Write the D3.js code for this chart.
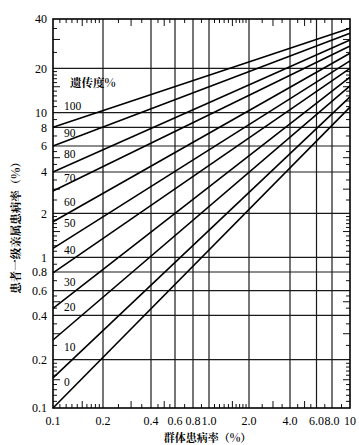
<!DOCTYPE html>
<html><head><meta charset="utf-8">
<script src="https://cdn.jsdelivr.net/npm/d3@7"></script>
<style>
html,body{margin:0;padding:0;background:#fff;}
svg{display:block;}
</style></head>
<body>
<svg id="chart" width="359" height="445"></svg>
<script>
// ---- data ----
const xGridVals = [0.1, 0.2, 0.4, 0.6, 0.8, 1, 2, 4, 6, 8, 10];
const xTickLabels = ["0.1", "0.2", "0.4", "0.6", "0.8", "1.0", "2.0", "4.0", "6.0", "8.0", "10"];
const yGridVals = [0.1, 0.2, 0.4, 0.6, 0.8, 1, 2, 4, 6, 8, 10, 20, 40];
const yTickLabels = ["0.1", "0.2", "0.4", "0.6", "0.8", "1", "2", "4", "6", "8", "10", "20", "40"];
const heritability = [0, 10, 20, 30, 40, 50, 60, 70, 80, 90, 100];
const xStart = 0.1, xEnd = 10;
const startValues = [0.1, 0.154, 0.272, 0.449, 0.79, 1.15, 1.75, 2.91, 4, 6, 8];       // relative risk at 0.1%
const endValues   = [10.9, 12.8, 15.2, 17.4, 20, 22.2, 24.7, 27.4, 29.8, 32.7, 35.1];   // at 10%
const labelValues = [0.145, 0.244, 0.459, 0.686, 1.12, 1.72, 2.42, 3.62, 5.3, 7.33, 11.1];
const minorMults = [1.1, 1.2, 1.3, 1.4, 1.5, 1.6, 1.7, 1.8, 1.9, 2.5, 3, 3.5, 4.5, 5, 5.5, 7, 9];
const longMults = [1.5, 3, 5];
const decades = [0.1, 1, 10];
const legendTitle = "遗传度%";
const xTitle = "群体患病率（%）";
const yTitle = "患者一级亲属患病率（%）";

// ---- layout (scale calibration of the printed log paper) ----
const xPix = [53, 103, 151, 175, 193, 209, 249, 290, 316.5, 332, 350];
const yPix = [408, 359.7, 315.3, 290.7, 272, 257.3, 213.3, 172, 146, 127.3, 112.7, 68.3, 19];

const x = d3.scaleLog().domain(xGridVals).range(xPix);
const y = d3.scaleLog().domain(yGridVals).range(yPix);
const L = x(0.1), R = x(10), T = y(40), B = y(0.1);

const svg = d3.select("#chart");
const serif = "'Liberation Serif','Times New Roman',serif";
const cjk = "'Noto Serif CJK SC','Noto Sans CJK SC',sans-serif";

// gridlines
svg.append("g").selectAll("line").data(xGridVals.slice(1, -1)).join("line")
  .attr("x1", d => x(d)).attr("x2", d => x(d)).attr("y1", T).attr("y2", B)
  .attr("stroke", "#1a1a1a").attr("stroke-width", 1.2);
svg.append("g").selectAll("line").data(yGridVals.slice(1, -1)).join("line")
  .attr("y1", d => y(d)).attr("y2", d => y(d)).attr("x1", L).attr("x2", R)
  .attr("stroke", "#1a1a1a").attr("stroke-width", 1.2);

// minor ticks
const isLong = m => longMults.includes(m);
const minor = [];
decades.forEach(dc => minorMults.forEach(m => minor.push({v: +(dc * m).toPrecision(4), long: isLong(m)})));
const xMinor = minor.filter(d => d.v > 0.1 && d.v < 10);
const yMinor = minor.filter(d => d.v > 0.1 && d.v < 40);
const tk = d => d.long ? 7 : 4;
const tg = svg.append("g").attr("stroke", "#111").attr("stroke-width", 1);
tg.selectAll(".bt").data(xMinor).join("line")
  .attr("x1", d => x(d.v)).attr("x2", d => x(d.v)).attr("y1", B).attr("y2", d => B - tk(d));
tg.selectAll(".tt").data(xMinor).join("line")
  .attr("x1", d => x(d.v)).attr("x2", d => x(d.v)).attr("y1", T).attr("y2", d => T + tk(d));
tg.selectAll(".lt").data(yMinor).join("line")
  .attr("y1", d => y(d.v)).attr("y2", d => y(d.v)).attr("x1", L).attr("x2", d => L + tk(d));
tg.selectAll(".rt").data(yMinor).join("line")
  .attr("y1", d => y(d.v)).attr("y2", d => y(d.v)).attr("x1", R).attr("x2", d => R - tk(d));

// heritability lines
const lineGen = d3.line().x(d => x(d[0])).y(d => y(d[1]));
svg.append("g").selectAll("path").data(heritability).join("path")
  .attr("d", (h, i) => lineGen([[xStart, startValues[i]], [xEnd, endValues[i]]]))
  .attr("fill", "none").attr("stroke", "#000").attr("stroke-width", 1.6);

// frame
svg.append("rect").attr("x", L).attr("y", T).attr("width", R - L).attr("height", B - T)
  .attr("fill", "none").attr("stroke", "#000").attr("stroke-width", 1.6);

// line labels
svg.append("g").selectAll("text").data(heritability).join("text")
  .attr("x", L + 11).attr("y", (h, i) => y(labelValues[i])).attr("dy", "0.35em")
  .attr("font-family", serif).attr("font-size", 11.5).text(h => h);

// legend title
svg.append("text").attr("x", L + 17).attr("y", y(16)).attr("dy", "0.35em")
  .attr("font-family", cjk).attr("font-weight", "bold").attr("font-size", 11.5).text(legendTitle);

// axis labels
svg.append("g").selectAll("text").data(xGridVals).join("text")
  .attr("x", d => x(d)).attr("y", B + 17).attr("text-anchor", "middle")
  .attr("font-family", serif).attr("font-size", 12).text((d, i) => xTickLabels[i]);
svg.append("g").selectAll("text").data(yGridVals).join("text")
  .attr("x", L - 6).attr("y", d => y(d)).attr("dy", "0.35em").attr("text-anchor", "end")
  .attr("font-family", serif).attr("font-size", 12).text((d, i) => yTickLabels[i]);

// axis titles
svg.append("text").attr("x", (L + R) / 2 + 6).attr("y", 442).attr("text-anchor", "middle")
  .attr("font-family", cjk).attr("font-weight", "bold").attr("font-size", 11).text(xTitle);
svg.append("text").attr("transform", "translate(20,225) rotate(-90)").attr("text-anchor", "middle")
  .attr("font-family", cjk).attr("font-weight", "bold").attr("font-size", 11.5).text(yTitle);
</script>
</body></html>
